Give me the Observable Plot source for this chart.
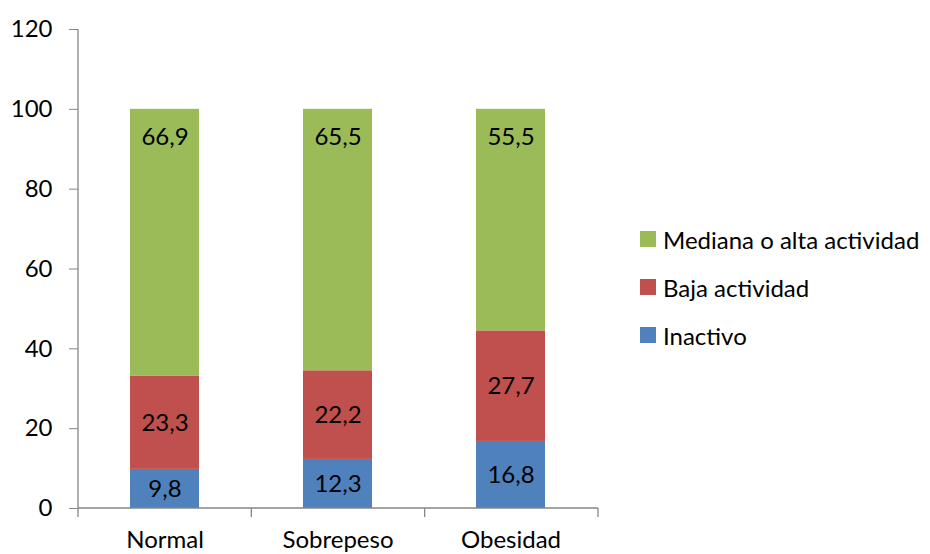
<!DOCTYPE html>
<html>
<head>
<meta charset="utf-8">
<script src="https://cdn.jsdelivr.net/npm/d3@7"></script>
<script src="https://cdn.jsdelivr.net/npm/@observablehq/plot@0.6"></script>
<style>
  html, body { margin: 0; padding: 0; background: #fff; }
  #wrap { position: relative; width: 930px; height: 554px; font-family: Lato, "Open Sans", sans-serif; }
  #legend { position: absolute; left: 640px; top: 215px; font-size: 24px; color: #000; }
  .item { display: flex; align-items: center; height: 48px; white-space: nowrap; }
  .sw { width: 16px; height: 16px; margin-right: 7px; flex: none; }
</style>
</head>
<body>
<div id="wrap">
  <div id="chart"></div>
  <div id="legend"></div>
</div>
<script>
const categories = ["Normal", "Sobrepeso", "Obesidad"];
const series = ["Inactivo", "Baja actividad", "Mediana o alta actividad"];
const inactivo = [9.8, 12.3, 16.8];
const baja = [23.3, 22.2, 27.7];
const mediana = [66.9, 65.5, 55.5];
const yTicks = [0, 20, 40, 60, 80, 100, 120];
const colors = ["#4F81BD", "#C0504D", "#9BBB59"];

const valuesBySeries = [inactivo, baja, mediana];
const rows = [];
categories.forEach((c, i) => {
  let base = 0;
  valuesBySeries.forEach((vals, s) => {
    const v = vals[i];
    rows.push({cat: c, series: series[s], s, value: v, y1: base, y2: base + v, mid: base + v / 2,
               label: v.toFixed(1).replace(".", ",")});
    base += v;
  });
});

const axisColor = "#868686";

const axesMark = (index, scales, values, dims) => {
  const {width, height, marginLeft, marginRight, marginTop, marginBottom} = dims;
  const x0 = marginLeft, x1 = width - marginRight, yb = height - marginBottom;
  const g = d3.create("svg:g").attr("stroke", axisColor).attr("stroke-width", 1.3).attr("fill", "none");
  g.append("line").attr("x1", x0).attr("x2", x0).attr("y1", marginTop).attr("y2", yb);
  g.append("line").attr("x1", x0).attr("x2", x1).attr("y1", yb).attr("y2", yb);
  const n = categories.length;
  for (let i = 0; i <= n; i++) {
    const xx = x0 + (x1 - x0) * i / n;
    g.append("line").attr("x1", xx).attr("x2", xx).attr("y1", yb).attr("y2", yb + 9);
  }
  return g.node();
};

const chart = Plot.plot({
  width: 930,
  height: 554,
  marginLeft: 78,
  marginRight: 332,
  marginTop: 29,
  marginBottom: 46,
  style: {fontFamily: "Lato, 'Open Sans', sans-serif", fontSize: "24px", color: "#000", background: "#fff"},
  x: {domain: categories, paddingInner: 0.6, paddingOuter: 0.3, label: null, tickSize: 0, tickPadding: 22},
  y: {domain: [0, 120], ticks: yTicks, label: null, tickSize: 9, tickPadding: 17},
  color: {domain: series, range: colors},
  marks: [
    Plot.barY(rows, {x: "cat", y1: "y1", y2: "y2", fill: "series"}),
    Plot.text(rows.filter(d => d.s < 2), {x: "cat", y: "mid", text: "label", fill: "#000", fontSize: 24}),
    Plot.text(rows.filter(d => d.s === 2), {x: "cat", y: "y2", text: "label", fill: "#000", fontSize: 24, dy: 28}),
    axesMark
  ]
});
chart.querySelectorAll("g[aria-label='y-axis tick']").forEach(el => {
  el.setAttribute("stroke", axisColor);
});
document.getElementById("chart").appendChild(chart);

const legend = document.getElementById("legend");
[2, 1, 0].forEach(s => {
  const item = document.createElement("div");
  item.className = "item";
  const sw = document.createElement("span");
  sw.className = "sw";
  sw.style.background = colors[s];
  const t = document.createElement("span");
  t.textContent = series[s];
  item.appendChild(sw);
  item.appendChild(t);
  legend.appendChild(item);
});
</script>
</body>
</html>
